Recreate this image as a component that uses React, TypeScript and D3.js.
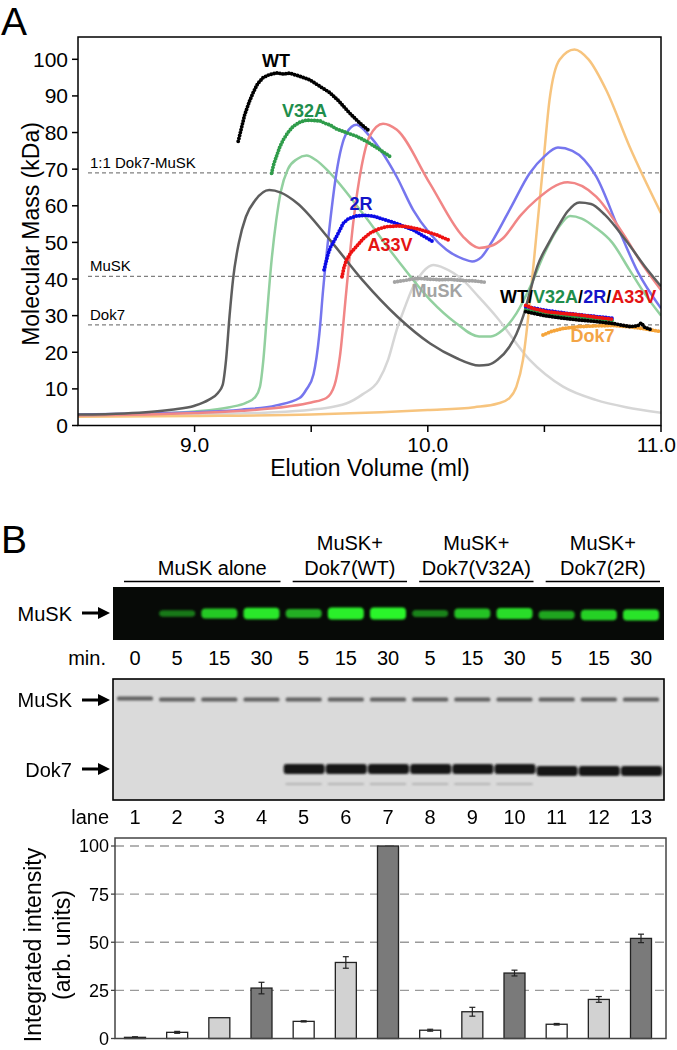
import React from 'react';
import * as d3 from 'd3';

const FONT = "'Liberation Sans', Arial, Helvetica, sans-serif";
const NARROW = "'Liberation Sans Narrow', 'Arial Narrow', 'Liberation Sans', Arial, sans-serif";

type P = [number, number];

// ---------- Panel A data ----------
const yTicksA = [0, 10, 20, 30, 40, 50, 60, 70, 80, 90, 100];
const xTicksMajor = [9.0, 10.0, 11.0];
const xTicksMinor = [9.5, 10.5];
const refLineValues = [69, 40.7, 27.5];
const refLineLabels = ['1:1 Dok7-MuSK', 'MuSK', 'Dok7'];

// UV traces (elution volume ml, scaled signal)
const uvWT: P[] = [[8.5,3.0],[8.7,3.3],[8.9,4.3],[9.0,5.4],[9.06,7],[9.1,8.9],[9.12,11],[9.135,18],[9.15,30],[9.165,40],[9.19,50],[9.22,57],[9.26,61.5],[9.32,64.3],[9.37,63.6],[9.44,60.7],[9.58,50.7],[9.72,39.7],[9.87,29.7],[10.01,22.4],[10.12,18.5],[10.22,16.4],[10.26,16.6],[10.3,18],[10.35,21.5],[10.38,25],[10.41,30],[10.44,37],[10.47,43.5],[10.52,50],[10.56,54.5],[10.6,58.5],[10.65,60.9],[10.7,60.5],[10.76,57.5],[10.85,50.5],[10.93,43.5],[11.0,38]];
const uvV32A: P[] = [[8.5,2.8],[8.8,3.2],[9.0,3.8],[9.15,5],[9.22,6.2],[9.26,7.8],[9.28,10.5],[9.295,18],[9.31,30],[9.33,45],[9.35,56],[9.37,64],[9.4,70],[9.44,72.8],[9.48,73.7],[9.52,72.5],[9.58,69],[9.72,58],[9.87,45.2],[10.01,34.3],[10.12,28],[10.22,24.3],[10.27,24.3],[10.32,26],[10.38,30.6],[10.44,38],[10.5,47],[10.56,54],[10.61,57.2],[10.66,56.5],[10.72,54],[10.79,50],[10.865,42.5],[10.93,36],[11.0,30]];
const uv2R: P[] = [[8.5,3.0],[8.8,3.3],[9.0,3.6],[9.2,4.3],[9.35,5.5],[9.45,7.5],[9.48,9.9],[9.51,14],[9.535,25],[9.551,37],[9.58,55],[9.608,68.9],[9.651,79.8],[9.694,82.1],[9.751,79],[9.866,68],[9.937,58.9],[10.008,52.5],[10.08,48],[10.151,45.5],[10.19,44.8],[10.23,46],[10.28,50.7],[10.36,60],[10.437,68.9],[10.5,73.5],[10.558,75.9],[10.62,75],[10.722,68],[10.82,53.4],[10.9,42],[11.0,32]];
const uvA33V: P[] = [[8.5,2.7],[8.8,3.0],[9.0,3.4],[9.2,4.0],[9.4,5.2],[9.5,6.3],[9.565,7.5],[9.6,11],[9.623,18.8],[9.651,37],[9.68,55.2],[9.716,70.7],[9.751,79],[9.808,82.4],[9.866,80.8],[10.008,66.2],[10.151,51.6],[10.22,48.5],[10.27,49],[10.32,51],[10.4,57.5],[10.465,61.6],[10.6,66.4],[10.722,62.5],[10.836,52.5],[10.92,44],[11.0,37]];
const uvMuSK: P[] = [[8.5,2.6],[9.0,3.0],[9.3,3.5],[9.5,4.3],[9.6,5.2],[9.65,6],[9.72,8.5],[9.79,12.4],[9.83,18],[9.866,26],[9.9,32],[9.937,37.9],[9.98,42],[10.023,43.8],[10.07,43],[10.151,39.7],[10.22,35],[10.294,29.7],[10.437,17.9],[10.58,10.6],[10.72,7],[10.85,5],[11.0,3.5]];
const uvDok7: P[] = [[8.5,2.4],[9.0,2.6],[9.5,3.0],[9.8,3.6],[10.0,4.2],[10.2,5.0],[10.3,6],[10.35,7.5],[10.38,10.6],[10.408,17.9],[10.437,33.4],[10.465,51.6],[10.494,70.7],[10.522,88.9],[10.565,99.9],[10.629,102.7],[10.69,99.9],[10.765,91.6],[10.865,76.2],[11.0,58]];

// MALS molar mass (kDa)
const massWT: P[] = [[9.187,77.6],[9.2,81],[9.215,84.9],[9.235,88.5],[9.251,90.9],[9.27,93.3],[9.294,95],[9.32,95.8],[9.351,96.3],[9.38,96],[9.408,96.2],[9.45,95.4],[9.494,94.4],[9.54,92.5],[9.58,90.9],[9.62,88.5],[9.665,85.3],[9.71,82.5],[9.751,80.3]];
const massV32A: P[] = [[9.33,68.9],[9.34,71.5],[9.351,73.5],[9.365,76],[9.38,78],[9.4,80],[9.423,81.7],[9.45,82.8],[9.48,83.4],[9.51,83.3],[9.537,83.2],[9.56,82.5],[9.58,82.1],[9.608,81],[9.65,80],[9.694,79],[9.74,77.5],[9.79,75.5],[9.837,73.5]];
const mass2R: P[] = [[9.555,42.5],[9.565,45],[9.573,47],[9.585,49],[9.601,50.7],[9.62,53],[9.637,55.2],[9.66,56.5],[9.694,57.2],[9.73,57.4],[9.765,57.2],[9.81,56.3],[9.866,55.2],[9.9,54.3],[9.937,53.4],[9.98,51.8],[10.023,50.2]];
const massA33V: P[] = [[9.632,40.6],[9.64,43],[9.651,45.2],[9.67,47.2],[9.694,48.9],[9.72,50.8],[9.751,52.5],[9.79,53.7],[9.823,54.3],[9.87,54.5],[9.909,54.3],[9.95,53.8],[9.994,53],[10.04,52],[10.087,50.7]];
const massMuSK: P[] = [[9.858,39.2],[9.9,39.6],[9.95,40.2],[10.0,40],[10.05,39.8],[10.1,39.9],[10.15,39.6],[10.2,39.5],[10.25,39.1]];
const massDok7: P[] = [[10.494,24.7],[10.53,25.7],[10.58,26.5],[10.65,27],[10.72,27.2],[10.794,27.3],[10.86,27],[10.93,26.4],[10.995,25.7]];
const mass2ndV32A: P[] = [[10.42,31.6],[10.5,30.6],[10.6,29.9],[10.7,29.3],[10.8,28.6]];
const mass2nd2R: P[] = [[10.42,32.5],[10.5,31.5],[10.6,30.6],[10.7,29.9],[10.79,29.3]];
const mass2ndA33V: P[] = [[10.42,32.8],[10.45,32],[10.508,31.1],[10.58,30.6],[10.65,30.2],[10.72,29.6],[10.794,29]];
const mass2ndWT: P[] = [[10.42,31.1],[10.5,30],[10.58,29.3],[10.65,28.8],[10.72,28.4],[10.8,27.8],[10.865,27],[10.9,27.2],[10.915,28],[10.93,26.8],[10.96,26.1]];

// ---------- Panel B data ----------
const lanes = [1, 2, 3, 4, 5, 6, 7, 8, 9, 10, 11, 12, 13];
const timeLabels = ['0', '5', '15', '30', '5', '15', '30', '5', '15', '30', '5', '15', '30'];
const groupLabels = [['MuSK alone'], ['MuSK+', 'Dok7(WT)'], ['MuSK+', 'Dok7(V32A)'], ['MuSK+', 'Dok7(2R)']];
const groupLanes = [[1, 4], [5, 7], [8, 10], [11, 13]];
const phosphoBand = [0, 0.3, 0.75, 0.92, 0.6, 0.97, 1.0, 0.35, 0.72, 0.86, 0.55, 0.8, 0.9];
const dok7Present = [0, 0, 0, 0, 1, 1, 1, 1, 1, 1, 1, 1, 1];
const barValues = [0.6, 3.2, 10.8, 26.2, 8.9, 39.5, 100, 4.3, 13.9, 34, 7.4, 20.3, 52];
const barErrors = [0.3, 0.5, 0, 3, 0.3, 3, 0, 0.5, 2.3, 1.5, 0.4, 1.5, 2.2];
const yTicksB = [0, 25, 50, 75, 100];

export default function App() {
  const xA = d3.scaleLinear().domain([8.5, 11]).range([78, 661]);
  const yA = d3.scaleLinear().domain([0, 100]).range([425.5, 59.3]);
  const uvLine = d3.line<P>().x(d => xA(d[0])).y(d => yA(d[1])).curve(d3.curveMonotoneX);
  const dotLine = d3.line<P>().x(d => xA(d[0])).y(d => yA(d[1])).curve(d3.curveLinear);

  const xLane = d3.scalePoint<number>().domain(lanes).range([135, 641]);
  const yB = d3.scaleLinear().domain([0, 100]).range([1038.5, 846]);
  const barW = 21;
  const fillFor = (t: string) => (t === '30' ? '#7a7a7a' : t === '15' ? '#d2d2d2' : '#ffffff');

  const uv = [
    { d: uvMuSK, c: '#d6d6d6' },
    { d: uvDok7, c: '#f7c47e' },
    { d: uvV32A, c: '#92d09f' },
    { d: uv2R, c: '#7676ee' },
    { d: uvA33V, c: '#f18686' },
    { d: uvWT, c: '#5e5e5e' },
  ];
  const dots = [
    { d: massMuSK, c: '#a4a4a4' },
    { d: massDok7, c: '#f5a43a' },
    { d: massWT, c: '#000000' },
    { d: massV32A, c: '#2f9c4a' },
    { d: mass2R, c: '#0a0ae6' },
    { d: massA33V, c: '#ee1111' },
    { d: mass2ndV32A, c: '#2f9c4a' },
    { d: mass2nd2R, c: '#0a0ae6' },
    { d: mass2ndA33V, c: '#ee1111' },
    { d: mass2ndWT, c: '#000000' },
  ];

  const arrow = (x1: number, x2: number, y: number) => (
    <g>
      <line x1={x1} x2={x2 - 9} y1={y} y2={y} stroke="#000" strokeWidth={3} />
      <path d={`M${x2},${y} L${x2 - 12},${y - 6} L${x2 - 12},${y + 6} Z`} fill="#000" />
    </g>
  );

  return (
    <svg width={677} height={1050} style={{ position: 'absolute', left: 0, top: 0, background: '#fff' }} fontFamily={FONT}>
      <defs>
        <filter id="blurG" x="-20%" y="-100%" width="140%" height="300%">
          <feGaussianBlur stdDeviation="1.3" />
        </filter>
        <filter id="blurK" x="-20%" y="-100%" width="140%" height="300%">
          <feGaussianBlur stdDeviation="0.8" />
        </filter>
        <clipPath id="clipA">
          <rect x={78} y={37} width={583} height={389} />
        </clipPath>
      </defs>

      {/* ---------------- Panel A ---------------- */}
      <text x={1} y={35} fontSize={39}>A</text>

      {refLineValues.map((v, i) => (
        <g key={'ref' + i}>
          <line x1={88} x2={661} y1={yA(v)} y2={yA(v)} stroke="#808080" strokeWidth={1.2} strokeDasharray="4 3" />
          <text x={90} y={yA(v) - 5} fontSize={15}>{refLineLabels[i]}</text>
        </g>
      ))}

      <g clipPath="url(#clipA)">
        {uv.map((s, i) => (
          <path key={'uv' + i} d={uvLine(s.d) || ''} fill="none" stroke={s.c} strokeWidth={2.5} />
        ))}
        {dots.map((s, i) => (
          <path key={'dt' + i} d={dotLine(s.d) || ''} fill="none" stroke={s.c} strokeWidth={3.9}
            strokeLinecap="round" strokeDasharray="0 3" />
        ))}
      </g>

      <rect x={78} y={37} width={583} height={388.5} fill="none" stroke="#000" strokeWidth={1.5} />

      {yTicksA.map(t => (
        <g key={'ya' + t}>
          <line x1={72} x2={78} y1={yA(t)} y2={yA(t)} stroke="#000" strokeWidth={1.5} />
          <text x={68} y={yA(t)} dy="0.36em" textAnchor="end" fontSize={21}>{t}</text>
        </g>
      ))}
      {xTicksMajor.map((t, i) => (
        <g key={'xa' + t}>
          <line x1={xA(t)} x2={xA(t)} y1={425.5} y2={432} stroke="#000" strokeWidth={1.5} />
          <text x={i === xTicksMajor.length - 1 ? 676 : xA(t)} y={452}
            textAnchor={i === xTicksMajor.length - 1 ? 'end' : 'middle'} fontSize={21}>{t.toFixed(1)}</text>
        </g>
      ))}
      {xTicksMinor.map(t => (
        <line key={'xm' + t} x1={xA(t)} x2={xA(t)} y1={425.5} y2={432} stroke="#000" strokeWidth={1.5} />
      ))}
      <text x={370} y={476} textAnchor="middle" fontSize={23}>Elution Volume (ml)</text>
      <text transform="translate(39,234) rotate(-90)" textAnchor="middle" fontSize={23}>Molecular Mass (kDa)</text>

      <g fontWeight="bold" fontSize={18}>
        <text x={xA(9.349)} y={yA(97.9)} textAnchor="middle" fill="#000">WT</text>
        <text x={xA(9.471)} y={yA(84.2)} textAnchor="middle" fill="#1f8e4c">V32A</text>
        <text x={xA(9.714)} y={yA(58.8)} textAnchor="middle" fill="#1414c8">2R</text>
        <text x={xA(9.838)} y={yA(47.6)} textAnchor="middle" fill="#e41414">A33V</text>
        <text x={xA(10.039)} y={yA(35.1)} textAnchor="middle" fill="#a3a3a3">MuSK</text>
        <text x={xA(10.31)} y={yA(33.4)} textAnchor="start">
          <tspan fill="#000">WT/</tspan>
          <tspan fill="#1f8e4c">V32A</tspan>
          <tspan fill="#000">/</tspan>
          <tspan fill="#1414c8">2R</tspan>
          <tspan fill="#000">/</tspan>
          <tspan fill="#e41414">A33V</tspan>
        </text>
        <text x={xA(10.706)} y={yA(22.8)} textAnchor="middle" fill="#f3a446">Dok7</text>
      </g>

      {/* ---------------- Panel B ---------------- */}
      <text x={1} y={553} fontSize={39}>B</text>

      {groupLabels.map((lbls, gi) => {
        const x1 = xLane(groupLanes[gi][0])! - 11;
        const x2 = xLane(groupLanes[gi][1])! + 19;
        const cx = (x1 + x2) / 2 + (gi === 0 ? 10 : 0);
        return (
          <g key={'grp' + gi}>
            <line x1={x1} x2={x2} y1={581.5} y2={581.5} stroke="#000" strokeWidth={1.3} />
            {lbls.map((l, li) => (
              <text key={li} x={cx} y={575 - (lbls.length - 1 - li) * 25} textAnchor="middle" fontSize={20}>{l}</text>
            ))}
          </g>
        );
      })}

      {/* fluorescence blot */}
      <rect x={113} y={587} width={551} height={53} fill="#070a07" />
      <g filter="url(#blurG)">
        {lanes.map((l, i) => {
          const v = phosphoBand[i];
          if (v <= 0) return null;
          const h = 4 + 8 * v;
          return (
            <rect key={'gb' + l} x={xLane(l)! - 18} y={613.5 - h / 2 + (l >= 11 ? 1.5 : 0)} width={36} height={h} rx={4}
              fill="#2cf52c" opacity={0.25 + 0.75 * v} />
          );
        })}
      </g>
      <text x={72} y={621} textAnchor="end" fontSize={20}>MuSK</text>
      {arrow(82, 110, 613)}

      <text x={106} y={665} textAnchor="end" fontSize={20}>min.</text>
      {lanes.map((l, i) => (
        <text key={'tl' + l} x={xLane(l)} y={665} textAnchor="middle" fontSize={20}>{timeLabels[i]}</text>
      ))}

      {/* Coomassie gel */}
      <rect x={113} y={679} width={551} height={121} fill="#dadada" stroke="#000" strokeWidth={1.6} />
      <g filter="url(#blurK)">
        {lanes.map(l => (
          <rect key={'mb' + l} x={xLane(l)! - 18} y={697.5 + (l === 1 ? -1 : 0)} width={36} height={4} rx={1.5} fill="#4a4a4a" opacity={0.85} />
        ))}
        {lanes.map((l, i) => dok7Present[i] ? (
          <g key={'db' + l}>
            <rect x={xLane(l)! - 20} y={764 + (l >= 11 ? 2 : 0)} width={41} height={10} rx={3} fill="#151515" />
            {l <= 10 && <rect x={xLane(l)! - 18} y={783} width={36} height={2} fill="#9a9a9a" opacity={0.6} />}
          </g>
        ) : null)}
      </g>
      <text x={72} y={707} textAnchor="end" fontSize={20}>MuSK</text>
      {arrow(82, 110, 700)}
      <text x={72} y={777} textAnchor="end" fontSize={20}>Dok7</text>
      {arrow(82, 110, 769)}

      <text x={109} y={824} textAnchor="end" fontSize={20}>lane</text>
      {lanes.map(l => (
        <text key={'ln' + l} x={xLane(l)} y={824} textAnchor="middle" fontSize={20}>{l}</text>
      ))}

      {/* bar chart */}
      {yTicksB.filter(t => t > 0).map(t => (
        <line key={'gr' + t} x1={115} x2={666} y1={yB(t)} y2={yB(t)} stroke="#9a9a9a" strokeWidth={1.4} strokeDasharray="9 6" />
      ))}
      {lanes.map((l, i) => (
        <g key={'bar' + l}>
          <rect x={xLane(l)! - barW / 2} y={yB(barValues[i])} width={barW} height={yB(0) - yB(barValues[i])}
            fill={fillFor(timeLabels[i])} stroke="#222" strokeWidth={1.3} />
          {barErrors[i] > 0 && (
            <g stroke="#222" strokeWidth={1.2}>
              <line x1={xLane(l)} x2={xLane(l)} y1={yB(barValues[i] - barErrors[i])} y2={yB(barValues[i] + barErrors[i])} />
              <line x1={xLane(l)! - 3} x2={xLane(l)! + 3} y1={yB(barValues[i] - barErrors[i])} y2={yB(barValues[i] - barErrors[i])} />
              <line x1={xLane(l)! - 3} x2={xLane(l)! + 3} y1={yB(barValues[i] + barErrors[i])} y2={yB(barValues[i] + barErrors[i])} />
            </g>
          )}
        </g>
      ))}
      <rect x={115} y={838} width={551} height={200.5} fill="none" stroke="#444" strokeWidth={1.5} />
      {yTicksB.map(t => (
        <g key={'yb' + t}>
          <line x1={111} x2={115} y1={yB(t)} y2={yB(t)} stroke="#444" strokeWidth={1.3} />
          <text x={109} y={yB(t)} dy="0.36em" textAnchor="end" fontSize={18} fontFamily={NARROW}>{t}</text>
        </g>
      ))}
      <text transform="translate(41,945) rotate(-90)" textAnchor="middle" fontSize={23}>Integrated intensity</text>
      <text transform="translate(70,945) rotate(-90)" textAnchor="middle" fontSize={23}>(arb. units)</text>
    </svg>
  );
}
